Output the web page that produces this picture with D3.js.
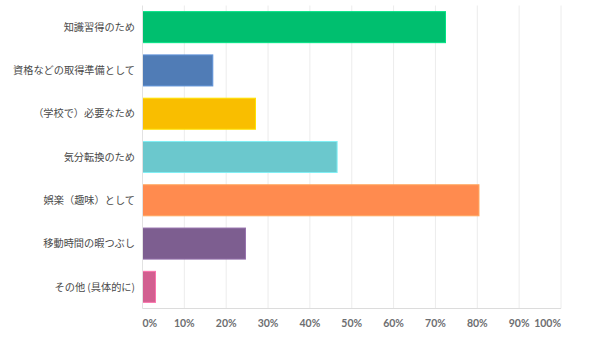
<!DOCTYPE html>
<html>
<head>
<meta charset="utf-8">
<script src="https://cdn.jsdelivr.net/npm/d3@7/dist/d3.min.js"></script>
<style>
  html, body { margin: 0; padding: 0; background: #fff; }
  svg { display: block; }
</style>
</head>
<body>
<svg id="chart" width="600" height="349"></svg>
<script>
// Survey answers (share of respondents, %)
const categories = [
  "知識習得のため",
  "資格などの取得準備として",
  "（学校で）必要なため",
  "気分転換のため",
  "娯楽（趣味）として",
  "移動時間の暇つぶし",
  "その他 (具体的に)"
];
const values = [72.4, 16.8, 27.0, 46.5, 80.4, 24.6, 3.1];
const barColors = ["#00bf6f", "#507cb6", "#f9be00", "#6bc8cd", "#ff8b4f", "#7d5e90", "#d25f90"];
const ticks = [0, 10, 20, 30, 40, 50, 60, 70, 80, 90, 100];
const tickLabels = ticks.map(t => t + "%");

const svg = d3.select("#chart");
const plotLeft = 142.5, plotRight = 561, plotTop = 5.5, plotBottom = 308.5;

const x = d3.scaleLinear().domain([0, 100]).range([plotLeft, plotRight]);
const y = d3.scaleBand().domain(categories).range([plotTop, plotBottom])
  .paddingInner(0.283).paddingOuter(0.1415);

// vertical gridlines
svg.append("g").selectAll("line").data(ticks.slice(1)).join("line")
  .attr("x1", d => x(d)).attr("x2", d => x(d))
  .attr("y1", plotTop).attr("y2", plotBottom)
  .attr("stroke", "#ececec").attr("stroke-width", 1);

// bars
svg.append("g").selectAll("rect").data(values).join("rect")
  .attr("x", x(0))
  .attr("y", (d, i) => y(categories[i]))
  .attr("width", d => x(d) - x(0))
  .attr("height", y.bandwidth())
  .attr("fill", (d, i) => barColors[i])
  .attr("stroke", (d, i) => d3.color(barColors[i]).brighter(0.5))
  .attr("stroke-width", 1);

// axis lines
svg.append("line").attr("x1", plotLeft).attr("x2", plotLeft).attr("y1", plotTop).attr("y2", plotBottom)
  .attr("stroke", "#e2e2e2");
svg.append("line").attr("x1", plotLeft).attr("x2", plotRight).attr("y1", plotBottom).attr("y2", plotBottom)
  .attr("stroke", "#dcdcdc");

// category labels
svg.append("g").selectAll("text").data(categories).join("text")
  .attr("x", 135)
  .attr("y", d => y(d) + y.bandwidth() / 2)
  .attr("dy", "0.36em")
  .attr("text-anchor", "end")
  .attr("font-family", "'Noto Sans CJK JP', 'Noto Sans', sans-serif")
  .attr("font-size", 10.2)
  .attr("fill", "#4a4a4a")
  .text(d => d);

// x tick labels; the outer ones stay inside the plot edges
svg.append("g").selectAll("text").data(ticks).join("text")
  .attr("x", d => x(d))
  .attr("y", 326.5)
  .attr("text-anchor", (d, i) => i === 0 ? "start" : (i === ticks.length - 1 ? "end" : "middle"))
  .attr("font-family", "Lato, 'Open Sans', sans-serif")
  .attr("font-weight", "bold")
  .attr("font-size", 10.5)
  .attr("fill", "#6d6e71")
  .text((d, i) => tickLabels[i]);
</script>
</body>
</html>
